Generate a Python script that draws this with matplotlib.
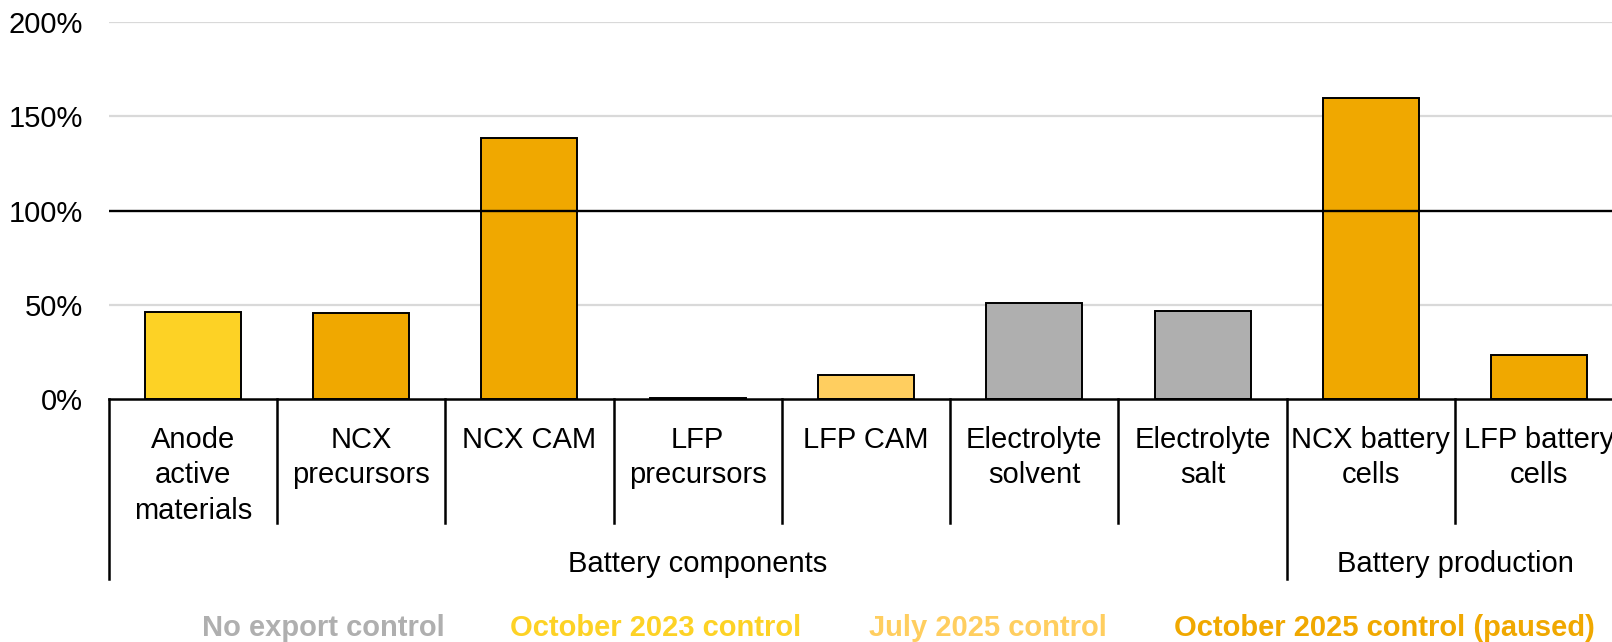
import matplotlib
matplotlib.use("Agg")
import matplotlib.pyplot as plt
from matplotlib.transforms import blended_transform_factory

plt.rcParams['font.family'] = ['Liberation Sans', 'DejaVu Sans']

categories = ["Anode\nactive\nmaterials", "NCX\nprecursors", "NCX CAM", "LFP\nprecursors",
              "LFP CAM", "Electrolyte\nsolvent", "Electrolyte\nsalt", "NCX battery\ncells",
              "LFP battery\ncells"]
values = [46.2, 45.8, 138.6, 0.4, 13.0, 51.2, 46.9, 159.6, 23.2]
control = ["oct23", "oct25", "oct25", "oct25", "jul25", "none", "none", "oct25", "oct25"]
groups = ["Battery components", "Battery production"]
group_spans = [(0, 6), (7, 8)]
yticks = [0, 50, 100, 150, 200]
ytick_labels = ["0%", "50%", "100%", "150%", "200%"]
legend_keys = ["none", "oct23", "jul25", "oct25"]
legend_labels = ["No export control", "October 2023 control", "July 2025 control",
                 "October 2025 control (paused)"]

colors = {"none": "#AFAFAF", "oct23": "#FDD225", "jul25": "#FFCE5F", "oct25": "#F0A800"}

W, H = 1612, 642
fig = plt.figure(figsize=(W / 100, H / 100), dpi=100)
left = 108.6 / W
bottom = (H - 399) / H
top_px = 22.3
ax = fig.add_axes([left, bottom, 1 - left, (399 - top_px) / H])

catw = 168.3
x_right = 8.5 - (108.6 + 9 * catw - W) / catw
ax.set_xlim(-0.5, x_right)
ax.set_ylim(0, 200)

for y in [50, 150, 200]:
    ax.axhline(y, color="#D9D9D9", lw=1.6, zorder=0)
ax.axhline(100, color="black", lw=1.7, zorder=3)

xs = list(range(len(categories)))
ax.bar(xs, values, width=0.57, color=[colors[c] for c in control],
       edgecolor="black", linewidth=1.4, zorder=2)

for s in ["top", "right", "left"]:
    ax.spines[s].set_visible(False)
ax.spines["bottom"].set_linewidth(1.8)
ax.set_xticks([])
ax.set_yticks(yticks)
ax.set_yticklabels(ytick_labels, fontsize=21)
ax.tick_params(axis="y", length=0, pad=18.4)

trans = blended_transform_factory(ax.transData, ax.transAxes)
axh = (399 - top_px)

def yfrac(px_below):
    return -px_below / axh

# category dividers
for i in range(len(categories) + 1):
    xb = i - 0.5
    if i == 0 or i == 7:
        y1 = yfrac(180)
    else:
        y1 = yfrac(124)
    ax.plot([xb, xb], [0, y1], transform=trans, color="black", lw=1.8, clip_on=False)

for i, lab in enumerate(categories):
    ax.text(i, yfrac(26.5), lab, transform=trans, ha="center", va="top",
            fontsize=21, linespacing=1.36, clip_on=False)

for g, (a, b) in zip(groups, group_spans):
    ax.text((a + b) / 2, yfrac(165), g, transform=trans, ha="center", va="center",
            fontsize=21, clip_on=False)

leg_centers = [323, 656, 988, 1384]
for k, lab, cx in zip(legend_keys, legend_labels, leg_centers):
    fig.text(cx / W, (H - 628) / H, lab, ha="center", va="center", fontsize=21,
             fontweight="bold", color=colors[k])

fig.savefig("out.png", dpi=100)
